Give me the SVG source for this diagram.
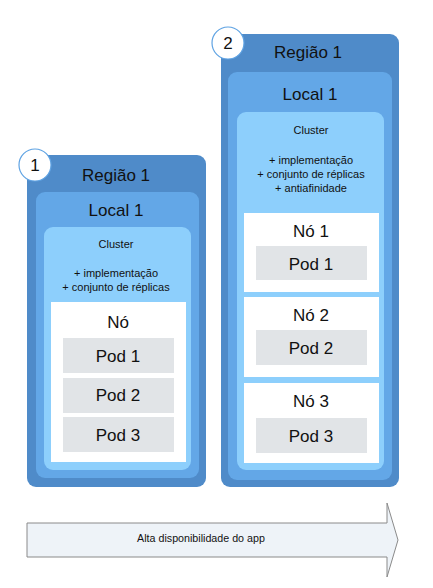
<svg xmlns="http://www.w3.org/2000/svg" width="433" height="588" viewBox="0 0 433 588">
<style>
text{font-family:"Liberation Sans",Arial,sans-serif;fill:#111;text-anchor:middle}
.region{fill:#4f8bc9}
.local{fill:#63a7e7}
.cluster{fill:#8dcffc}
.node{fill:#ffffff}
.pod{fill:#e1e4e7}
.badge{fill:#ffffff;stroke:#5fa3e3;stroke-width:1.2}
.big{font-size:17px}
.small{font-size:11px}
</style>
<rect width="433" height="588" fill="#ffffff"/>
<g id="region-1">
<rect class="region" x="27" y="155" width="179" height="332" rx="9"/>
<rect class="local" x="36" y="192" width="163" height="286" rx="9"/>
<rect class="cluster" x="44" y="227" width="147" height="243" rx="9"/>
<text class="big" x="116" y="181">Região 1</text>
<text class="big" x="116" y="216">Local 1</text>
<text class="small" x="116" y="248">Cluster</text>
<text class="small" x="116" y="277">+ implementação</text>
<text class="small" x="116" y="291">+ conjunto de réplicas</text>
<g id="node-1a">
<rect class="node" x="51" y="302" width="135" height="160"/>
<text class="big" x="118" y="328">Nó</text>
<rect class="pod" x="63" y="338" width="111" height="35"/>
<text class="big" x="118" y="362">Pod 1</text>
<rect class="pod" x="63" y="378" width="111" height="35"/>
<text class="big" x="118" y="401">Pod 2</text>
<rect class="pod" x="63" y="417" width="111" height="35"/>
<text class="big" x="118" y="441">Pod 3</text>
</g>
<circle class="badge" cx="35" cy="165" r="16"/>
<text class="big" x="35" y="171">1</text>
</g>
<g id="region-2">
<rect class="region" x="221" y="34" width="178" height="453" rx="9"/>
<rect class="local" x="228" y="72" width="164" height="408" rx="9"/>
<rect class="cluster" x="237" y="112" width="147" height="358" rx="9"/>
<text class="big" x="308" y="58">Região 1</text>
<text class="big" x="310" y="100">Local 1</text>
<text class="small" x="311" y="134">Cluster</text>
<text class="small" x="311" y="164">+ implementação</text>
<text class="small" x="311" y="178">+ conjunto de réplicas</text>
<text class="small" x="311" y="192">+ antiafinidade</text>
<g id="node-2a">
<rect class="node" x="244" y="213" width="135" height="79"/>
<text class="big" x="311" y="237">Nó 1</text>
<rect class="pod" x="256" y="246" width="111" height="34"/>
<text class="big" x="311" y="270">Pod 1</text>
</g>
<g id="node-2b">
<rect class="node" x="244" y="297" width="135" height="80"/>
<text class="big" x="311" y="321">Nó 2</text>
<rect class="pod" x="256" y="330" width="111" height="35"/>
<text class="big" x="311" y="354">Pod 2</text>
</g>
<g id="node-2c">
<rect class="node" x="244" y="383" width="135" height="80"/>
<text class="big" x="311" y="407">Nó 3</text>
<rect class="pod" x="256" y="418" width="111" height="35"/>
<text class="big" x="311" y="442">Pod 3</text>
</g>
<circle class="badge" cx="228" cy="43" r="16"/>
<text class="big" x="228" y="49">2</text>
</g>
<g id="connectors">
<path d="M27,523 H387 V503 L398,540 L387,577 V557 H27 Z" fill="#eef3f8" stroke="#8a8a8a" stroke-width="1"/>
<text class="small" x="201" y="542" style="font-size:10.7px">Alta disponibilidade do app</text>
</g>
</svg>
